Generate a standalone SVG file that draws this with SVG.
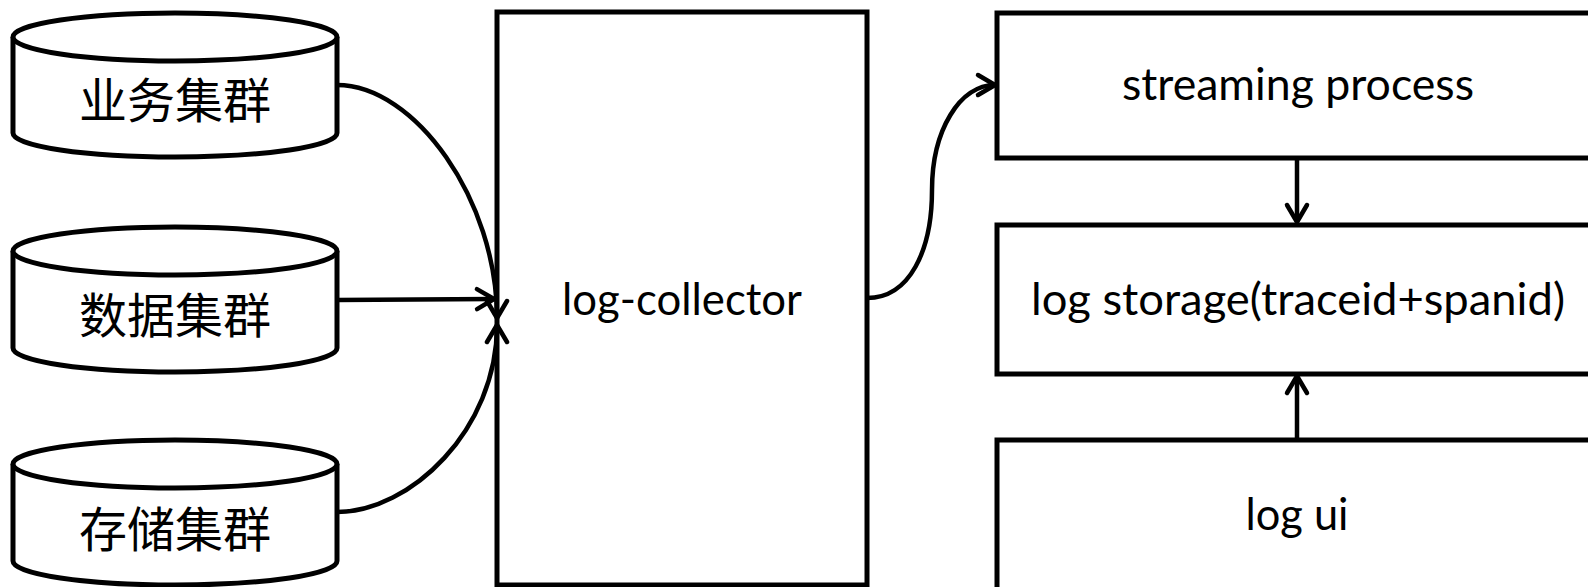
<svg xmlns="http://www.w3.org/2000/svg" width="1588" height="587" viewBox="0 0 1588 587">
<style>
.shape{fill:#fff;stroke:#000;stroke-width:5;stroke-linejoin:miter}
.cyl{fill:#fff;stroke:#000;stroke-width:5}
.conn{fill:none;stroke:#000;stroke-width:4.5}
.cjk{font-family:"Noto Sans CJK SC","Noto Sans CJK JP",sans-serif;font-size:48px;fill:#000;text-anchor:middle}
.lat{font-family:Lato,"Open Sans","Liberation Sans",sans-serif;font-size:45px;fill:#000;text-anchor:middle}
</style>
<defs>
<marker id="arr" markerUnits="userSpaceOnUse" markerWidth="40" markerHeight="40" viewBox="-20 -20 40 40" refX="0" refY="0" orient="auto" overflow="visible">
<path d="M-17,-10 L0,0 L-17,10" fill="none" stroke="#000" stroke-width="4.5" stroke-linecap="round" stroke-linejoin="round"/>
</marker>
</defs>
<rect x="0" y="0" width="1588" height="587" fill="#fff"/>
<g id="cyl-business">
<path class="cyl" d="M13,37 A162,24 0 0 1 337,37 L337,133 A162,24 0 0 1 13,133 Z"/>
<path class="cyl" fill="none" d="M13,37 A162,24 0 0 0 337,37"/>
<text class="cjk" x="175" y="118">业务集群</text>
</g>
<g id="cyl-data">
<path class="cyl" d="M13,251 A162,24 0 0 1 337,251 L337,348 A162,24 0 0 1 13,348 Z"/>
<path class="cyl" fill="none" d="M13,251 A162,24 0 0 0 337,251"/>
<text class="cjk" x="175" y="333">数据集群</text>
</g>
<g id="cyl-storage">
<path class="cyl" d="M13,464 A162,24 0 0 1 337,464 L337,561 A162,24 0 0 1 13,561 Z"/>
<path class="cyl" fill="none" d="M13,464 A162,24 0 0 0 337,464"/>
<text class="cjk" x="175" y="547">存储集群</text>
</g>
<g id="log-collector">
<rect class="shape" x="497" y="12" width="370" height="573"/>
<text class="lat" x="682" y="315" textLength="240" lengthAdjust="spacingAndGlyphs">log-collector</text>
</g>
<g id="streaming-process">
<rect class="shape" x="997" y="13" width="620" height="145"/>
<text class="lat" x="1298" y="100" textLength="352" lengthAdjust="spacingAndGlyphs">streaming process</text>
</g>
<g id="log-storage">
<rect class="shape" x="997" y="225" width="620" height="149"/>
<text class="lat" x="1298" y="315" textLength="534" lengthAdjust="spacingAndGlyphs">log storage(traceid+spanid)</text>
</g>
<g id="log-ui">
<rect class="shape" x="997" y="440" width="620" height="152"/>
<text class="lat" x="1297" y="530" textLength="103" lengthAdjust="spacingAndGlyphs">log ui</text>
</g>
<g id="connectors">
<path class="conn" marker-end="url(#arr)" d="M337,85 C415,85 497,200 497,318"/>
<path class="conn" marker-end="url(#arr)" d="M337,300 L494,299"/>
<path class="conn" marker-end="url(#arr)" d="M337,512 C410,512 497,430 497,325"/>
<path class="conn" marker-end="url(#arr)" d="M867,298 C910,298 932,250 932,190 C932,130 960,85 995,85"/>
<path class="conn" marker-end="url(#arr)" d="M1297,158 L1297,222"/>
<path class="conn" marker-end="url(#arr)" d="M1297,440 L1297,376"/>
</g>
</svg>
